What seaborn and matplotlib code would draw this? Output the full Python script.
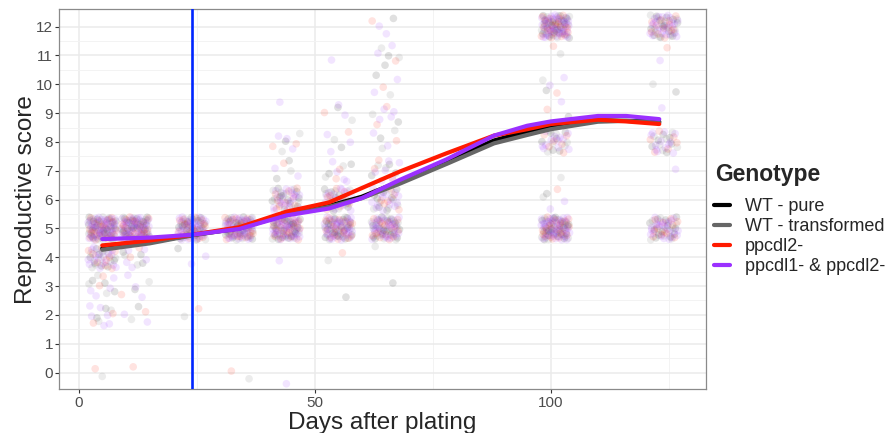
import numpy as np
import pandas as pd
import seaborn as sns
import matplotlib.pyplot as plt

genotypes = ["WT - pure", "WT - transformed", "ppcdl2-", "ppcdl1- & ppcdl2-"]
colors = ["#000000", "#666666", "#FF1A00", "#9B30FF"]
# share of plants per genotype (in fifths): the double mutant has the most
genotype_slots = [0, 1, 2, 3, 3]

# observed days and number of plants per score (0..12), all genotypes together
days = [5, 12, 24, 34, 44, 55, 65, 101, 124]
score_counts = [
    [2, 0, 12, 12, 45, 110, 0, 0, 0, 0, 0, 0, 0],
    [1, 0, 5, 6, 12, 110, 0, 0, 0, 0, 0, 0, 0],
    [0, 0, 2, 0, 3, 90, 0, 0, 0, 0, 0, 0, 0],
    [2, 0, 0, 0, 0, 100, 0, 0, 0, 0, 0, 0, 0],
    [1, 0, 0, 0, 1, 95, 50, 6, 8, 1, 0, 0, 0],
    [0, 0, 0, 1, 2, 90, 45, 10, 6, 5, 0, 1, 0],
    [0, 0, 0, 1, 1, 80, 35, 14, 6, 8, 5, 7, 4],
    [0, 0, 0, 0, 0, 100, 5, 1, 30, 4, 5, 2, 100],
    [0, 0, 0, 0, 0, 60, 0, 1, 30, 1, 2, 2, 60],
]

# smoothed trend
curve_days = [5, 15, 24, 34, 44, 53, 60, 68, 78, 88, 95, 100, 110, 116, 123]
curve_wt_pure = [4.31, 4.52, 4.77, 5.0, 5.5, 5.78, 6.1, 6.63, 7.35, 8.05, 8.36, 8.56, 8.75, 8.73, 8.70]
curve_wt_trans = [4.26, 4.48, 4.76, 5.0, 5.47, 5.75, 6.05, 6.55, 7.24, 7.95, 8.24, 8.44, 8.70, 8.73, 8.67]
curve_ppcdl2 = [4.41, 4.58, 4.78, 5.04, 5.58, 5.9, 6.4, 6.97, 7.61, 8.22, 8.44, 8.62, 8.77, 8.71, 8.62]
curve_double = [4.63, 4.68, 4.78, 4.98, 5.45, 5.69, 6.05, 6.68, 7.40, 8.22, 8.56, 8.71, 8.90, 8.90, 8.79]
vline_day = 24


def halton(i, base):
    f, r = 1.0, 0.0
    while i > 0:
        f /= base
        r += f * (i % base)
        i //= base
    return r


rows = []
k = 0
for d, counts in zip(days, score_counts):
    for sc, n in enumerate(counts):
        for j in range(n):
            k += 1
            # low-discrepancy jitter, like geom_jitter(width=3, height=0.4)
            rows.append({"Day": d, "Score": sc,
                         "Genotype": genotypes[genotype_slots[int(halton(k, 5) * 5)]],
                         "xj": d + (halton(k, 2) - 0.5) * 6.0,
                         "yj": sc + (halton(k, 3) - 0.5) * 0.8})
points = pd.DataFrame(rows)
points["order"] = points["Genotype"].map({g: i for i, g in enumerate(genotypes)})
points = points.sort_values("order", kind="stable")

curves = pd.concat([
    pd.DataFrame({"Day": curve_days, "Score": vals, "Genotype": g})
    for g, vals in zip(genotypes, [curve_wt_pure, curve_wt_trans, curve_ppcdl2, curve_double])
])

sns.set_theme(style="white")
plt.rcParams["font.family"] = ["Liberation Sans", "DejaVu Sans"]
palette = dict(zip(genotypes, colors))

fig = plt.figure(figsize=(8.93, 4.33), dpi=100)
ax = fig.add_axes([59.3 / 893, 1 - 389.3 / 433, (706 - 59.3) / 893, (389.3 - 9) / 433])

sns.scatterplot(data=points, x="xj", y="yj", hue="Genotype", hue_order=genotypes,
                palette=palette, s=30, alpha=0.12, linewidth=0, legend=False, ax=ax, zorder=2)
sns.lineplot(data=curves, x="Day", y="Score", hue="Genotype", hue_order=genotypes,
             palette=palette, lw=3, ax=ax, zorder=3)
ax.axvline(vline_day, color="#0026FF", lw=1.9, zorder=4)

ax.set_xlim(-4.1, 132.9)
ax.set_ylim(-0.58, 12.61)
ax.set_xticks([0, 50, 100])
ax.set_xticks([25, 75, 125], minor=True)
ax.set_yticks(range(13))
ax.set_yticks(np.arange(0.5, 12.5, 1), minor=True)
ax.grid(which="major", color="#EBEBEB", lw=1.1, zorder=0)
ax.grid(which="minor", color="#F3F3F3", lw=0.7, zorder=0)
ax.set_axisbelow(True)
for sp in ax.spines.values():
    sp.set_color("#8A8A8A")
    sp.set_linewidth(0.9)
ax.tick_params(which="major", length=3, width=0.8, color="#333333",
               labelcolor="#4D4D4D", labelsize=11, pad=1.5, left=True, bottom=True)
ax.tick_params(which="minor", length=0)
ax.set_xlabel("Days after plating", fontsize=17.5, labelpad=2)
ax.set_ylabel("Reproductive score", fontsize=17.5, labelpad=-1)

handles, labels = ax.get_legend_handles_labels()
if ax.legend_:
    ax.legend_.remove()
fig.text(715 / 893, 1 - 174 / 433, "Genotype", fontsize=16.5, fontweight="bold",
         ha="left", va="center")
fig.legend(handles, labels, loc="upper left",
           bbox_to_anchor=(707 / 893, 1 - 191 / 433), frameon=False,
           fontsize=13, handlelength=0.9, handletextpad=0.8,
           labelspacing=0.17, borderaxespad=0)

fig.savefig("out.png", dpi=100)
